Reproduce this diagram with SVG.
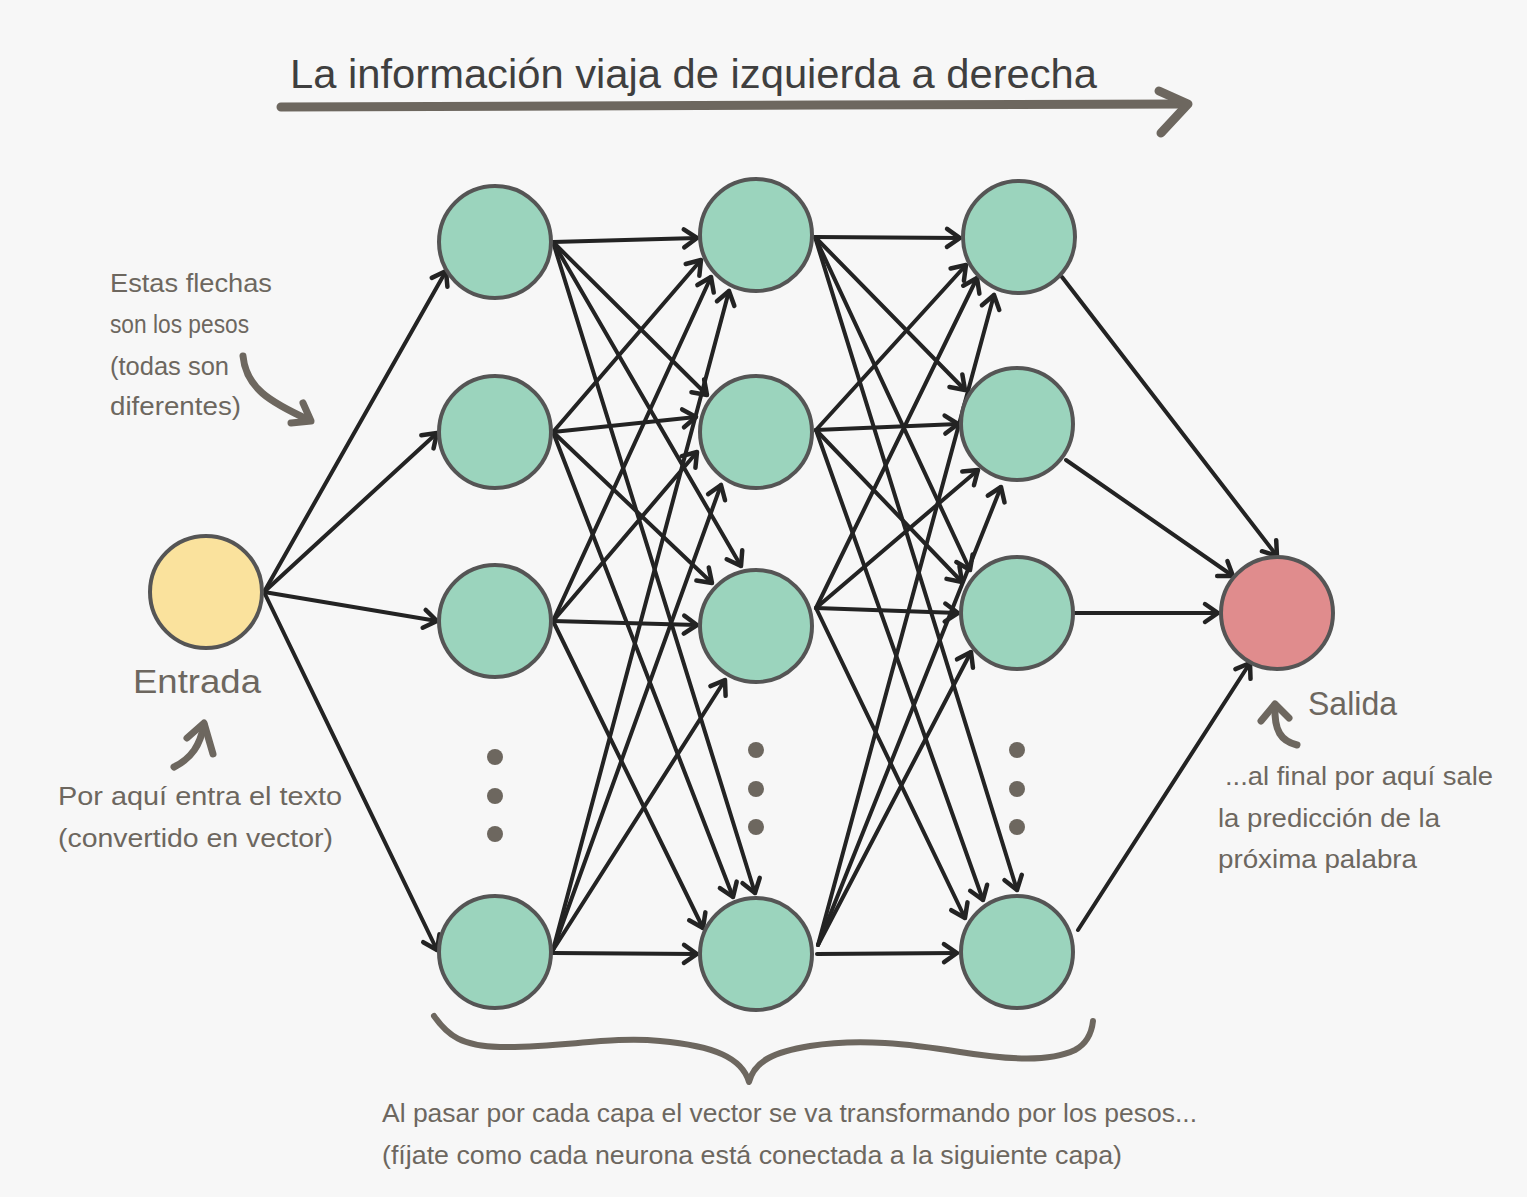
<svg xmlns="http://www.w3.org/2000/svg" width="1527" height="1197" viewBox="0 0 1527 1197">
<defs>
<style>
.bg{fill:#f7f7f7}
.node{stroke:#555555;stroke-width:4}
.hid{fill:#9bd4bd}
.inp{fill:#fae29d}
.out{fill:#e08c8d}
.edge{stroke:#232323;stroke-width:4;fill:none;stroke-linecap:round}
.note{font-family:"Liberation Sans Narrow","Liberation Sans",Arial,sans-serif;fill:#6d675f}
.title{font-family:"Liberation Sans Narrow","Liberation Sans",Arial,sans-serif;fill:#3f3f3f}
.hand{stroke:#6d675f;fill:none;stroke-linecap:round;stroke-linejoin:round}
.dot{fill:#6d675f}
</style>
<marker id="ah" viewBox="-16 -12 20 24" markerWidth="20" markerHeight="24" refX="0" refY="0" orient="auto" markerUnits="userSpaceOnUse" overflow="visible">
<path d="M-13,-9 L0,0 L-13,9" fill="none" stroke="#232323" stroke-width="4.5" stroke-linecap="round" stroke-linejoin="round"/>
</marker>
</defs>
<rect class="bg" x="0" y="0" width="1527" height="1197"/>

<g id="title">
<text class="title" x="290" y="88" font-size="40" textLength="807" lengthAdjust="spacingAndGlyphs">La información viaja de izquierda a derecha</text>
<path class="hand" stroke-width="9" d="M281,107 C500,104 900,106 1186,104"/>
<path class="hand" stroke-width="9" d="M1159,91 L1188,104 L1161,133"/>
</g>

<g id="connectors">
<path class="edge" marker-end="url(#ah)" d="M264,592 L446,271"/>
<path class="edge" marker-end="url(#ah)" d="M264,592 L437,433"/>
<path class="edge" marker-end="url(#ah)" d="M264,592 L437,621"/>
<path class="edge" marker-end="url(#ah)" d="M264,592 L437,950"/>

<path class="edge" marker-end="url(#ah)" d="M553,242 L697,238"/>
<path class="edge" marker-end="url(#ah)" d="M553,242 L707,395"/>
<path class="edge" marker-end="url(#ah)" d="M553,242 L741,566"/>
<path class="edge" marker-end="url(#ah)" d="M553,242 L755,893"/>

<path class="edge" marker-end="url(#ah)" d="M553,432 L701,260"/>
<path class="edge" marker-end="url(#ah)" d="M553,432 L696,417"/>
<path class="edge" marker-end="url(#ah)" d="M553,432 L712,583"/>
<path class="edge" marker-end="url(#ah)" d="M553,432 L733,897"/>

<path class="edge" marker-end="url(#ah)" d="M553,621 L711,277"/>
<path class="edge" marker-end="url(#ah)" d="M553,621 L697,452"/>
<path class="edge" marker-end="url(#ah)" d="M553,621 L697,625"/>
<path class="edge" marker-end="url(#ah)" d="M553,621 L703,928"/>

<path class="edge" marker-end="url(#ah)" d="M553,950 L729,291"/>
<path class="edge" marker-end="url(#ah)" d="M553,950 L721,485"/>
<path class="edge" marker-end="url(#ah)" d="M553,950 L725,680"/>
<path class="edge" marker-end="url(#ah)" d="M553,953 L697,954"/>

<path class="edge" marker-end="url(#ah)" d="M815,237 L960,238"/>
<path class="edge" marker-end="url(#ah)" d="M815,237 L965,390"/>
<path class="edge" marker-end="url(#ah)" d="M815,237 L970,570"/>
<path class="edge" marker-end="url(#ah)" d="M815,237 L1017,890"/>

<path class="edge" marker-end="url(#ah)" d="M816,430 L966,265"/>
<path class="edge" marker-end="url(#ah)" d="M816,430 L958,424"/>
<path class="edge" marker-end="url(#ah)" d="M816,430 L962,582"/>
<path class="edge" marker-end="url(#ah)" d="M816,430 L983,900"/>

<path class="edge" marker-end="url(#ah)" d="M816,608 L977,278"/>
<path class="edge" marker-end="url(#ah)" d="M816,608 L978,470"/>
<path class="edge" marker-end="url(#ah)" d="M816,608 L958,613"/>
<path class="edge" marker-end="url(#ah)" d="M816,608 L965,918"/>

<path class="edge" marker-end="url(#ah)" d="M818,945 L994,295"/>
<path class="edge" marker-end="url(#ah)" d="M818,945 L1001,487"/>
<path class="edge" marker-end="url(#ah)" d="M818,945 L971,652"/>
<path class="edge" marker-end="url(#ah)" d="M817,954 L957,953"/>

<path class="edge" marker-end="url(#ah)" d="M1062,277 L1277,556"/>
<path class="edge" marker-end="url(#ah)" d="M1066,460 L1233,576"/>
<path class="edge" marker-end="url(#ah)" d="M1075,613 L1218,613"/>
<path class="edge" marker-end="url(#ah)" d="M1078,930 L1250,663"/>
</g>

<g id="input"><circle class="node inp" cx="206" cy="592" r="56"/></g>

<g id="l1n1"><circle class="node hid" cx="495" cy="242" r="56"/></g>
<g id="l1n2"><circle class="node hid" cx="495" cy="432" r="56"/></g>
<g id="l1n3"><circle class="node hid" cx="495" cy="621" r="56"/></g>
<g id="l1n4"><circle class="node hid" cx="495" cy="952" r="56"/></g>

<g id="l2n1"><circle class="node hid" cx="756" cy="235" r="56"/></g>
<g id="l2n2"><circle class="node hid" cx="756" cy="432" r="56"/></g>
<g id="l2n3"><circle class="node hid" cx="756" cy="626" r="56"/></g>
<g id="l2n4"><circle class="node hid" cx="756" cy="954" r="56"/></g>

<g id="l3n1"><circle class="node hid" cx="1019" cy="237" r="56"/></g>
<g id="l3n2"><circle class="node hid" cx="1017" cy="424" r="56"/></g>
<g id="l3n3"><circle class="node hid" cx="1017" cy="613" r="56"/></g>
<g id="l3n4"><circle class="node hid" cx="1017" cy="952" r="56"/></g>

<g id="output"><circle class="node out" cx="1277" cy="613" r="56"/></g>

<g id="dots">
<circle class="dot" cx="495" cy="757" r="8"/><circle class="dot" cx="495" cy="796" r="8"/><circle class="dot" cx="495" cy="834" r="8"/>
<circle class="dot" cx="756" cy="750" r="8"/><circle class="dot" cx="756" cy="789" r="8"/><circle class="dot" cx="756" cy="827" r="8"/>
<circle class="dot" cx="1017" cy="750" r="8"/><circle class="dot" cx="1017" cy="789" r="8"/><circle class="dot" cx="1017" cy="827" r="8"/>
</g>

<g id="note-weights">
<text class="note" x="110" y="292" font-size="26" textLength="162" lengthAdjust="spacingAndGlyphs">Estas flechas</text>
<text class="note" x="110" y="333" font-size="26" textLength="139" lengthAdjust="spacingAndGlyphs">son los pesos</text>
<text class="note" x="110" y="375" font-size="26" textLength="119" lengthAdjust="spacingAndGlyphs">(todas son</text>
<text class="note" x="110" y="415" font-size="26" textLength="131" lengthAdjust="spacingAndGlyphs">diferentes)</text>
<path class="hand" stroke-width="7" d="M243,356 C246,388 270,402 309,420"/>
<path class="hand" stroke-width="7" d="M291,423 L311,421 L303,403"/>
</g>

<g id="note-input">
<text class="note" x="133" y="693" font-size="33" textLength="128" lengthAdjust="spacingAndGlyphs">Entrada</text>
<path class="hand" stroke-width="7" d="M174,767 C192,758 200,745 204,725"/>
<path class="hand" stroke-width="7" d="M187,738 L204,723 L213,754"/>
<text class="note" x="58" y="805" font-size="26" textLength="284" lengthAdjust="spacingAndGlyphs">Por aquí entra el texto</text>
<text class="note" x="58" y="847" font-size="26" textLength="275" lengthAdjust="spacingAndGlyphs">(convertido en vector)</text>
</g>

<g id="note-output">
<text class="note" x="1308" y="715" font-size="33" textLength="89" lengthAdjust="spacingAndGlyphs">Salida</text>
<path class="hand" stroke-width="7" d="M1297,745 C1281,741 1274,731 1275,706"/>
<path class="hand" stroke-width="7" d="M1261,721 L1275,704 L1289,718"/>
<text class="note" x="1225" y="785" font-size="26" textLength="268" lengthAdjust="spacingAndGlyphs">...al final por aquí sale</text>
<text class="note" x="1218" y="827" font-size="26" textLength="222" lengthAdjust="spacingAndGlyphs">la predicción de la</text>
<text class="note" x="1218" y="868" font-size="26" textLength="199" lengthAdjust="spacingAndGlyphs">próxima palabra</text>
</g>

<g id="note-layers">
<path class="hand" stroke-width="6" d="M434,1016 C448,1036 462,1046 500,1047 C560,1048 610,1036 660,1041 C715,1046 742,1058 749,1082 C755,1060 775,1052 810,1046 C860,1038 910,1044 960,1052 C1010,1060 1050,1062 1075,1050 C1088,1043 1092,1030 1093,1021"/>
<text class="note" x="382" y="1122" font-size="26" textLength="815" lengthAdjust="spacingAndGlyphs">Al pasar por cada capa el vector se va transformando por los pesos...</text>
<text class="note" x="382" y="1164" font-size="26" textLength="740" lengthAdjust="spacingAndGlyphs">(fíjate como cada neurona está conectada a la siguiente capa)</text>
</g>
</svg>
